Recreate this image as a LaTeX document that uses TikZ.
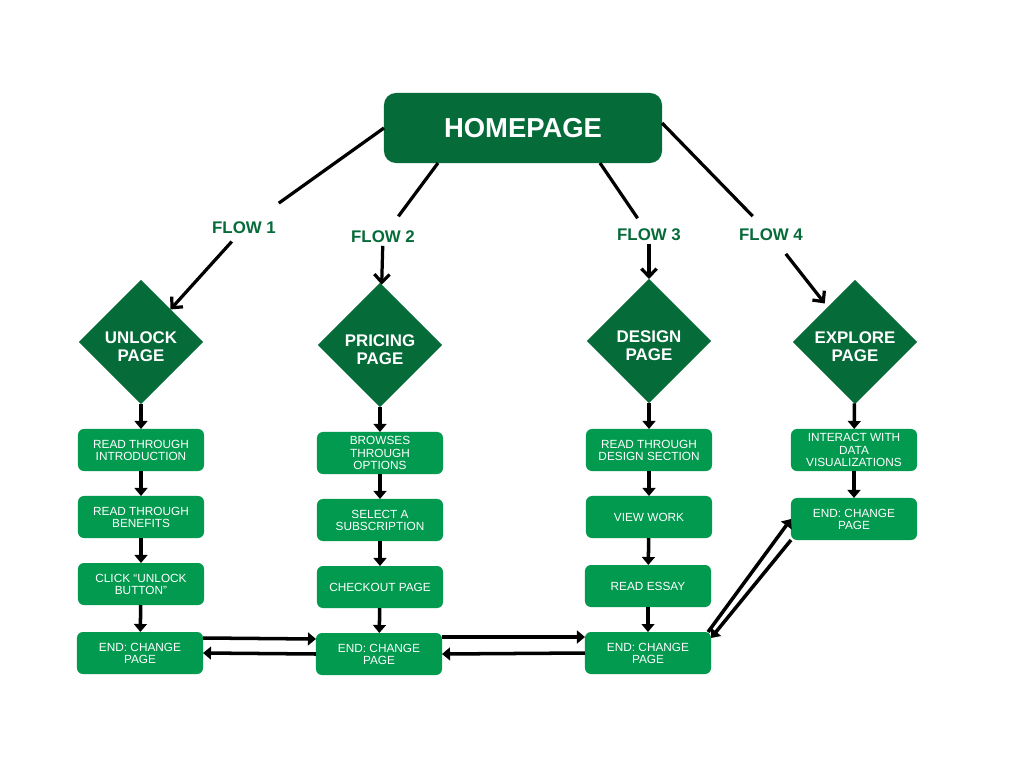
\documentclass[tikz,border=0pt]{standalone}
\usepackage{fontspec}
\setmainfont{Liberation Sans}
\usetikzlibrary{arrows.meta}
\usetikzlibrary{shapes.geometric}
\definecolor{darkgreen}{HTML}{056B39}
\definecolor{boxgreen}{HTML}{019A4F}
\newcommand{\toppad}{\rule{0pt}{15pt}}

\begin{document}
\begin{tikzpicture}
        [
            x = 0.025cm, y = -0.025cm,
            > = {Triangle[length=0.2cm, width=0.32cm]},
            line/.style = {line width=2.3pt},
            step arrow/.style = {->, line width=2.5pt},
            flowarrow/.style = {line width=2.3pt, -{Straight Barb[length=0.2cm, width=0.38cm]}},
            homebox/.style = {rectangle, rounded corners=0.3cm, fill=darkgreen, text=white, font=\bfseries\fontsize{19.5}{22}\selectfont, minimum width=6.95cm, minimum height=1.75cm, inner sep=0, outer sep=0},
            flow/.style = {text=darkgreen, font=\bfseries\fontsize{12}{14}\selectfont, inner sep=2pt, outer sep=0},
            page/.style = {diamond, fill=darkgreen, text=white, align=center, font=\bfseries\fontsize{12}{13}\selectfont, minimum width=3.1cm, minimum height=3.1cm, inner sep=0, outer sep=0},
            box/.style = {rectangle, rounded corners=0.15cm, fill=boxgreen, text=white, align=center, font=\fontsize{8.4}{8.6}\selectfont, minimum width=3.15cm, minimum height=1.05cm, inner sep=0, outer sep=0}
        ]
        \useasboundingbox (0, 0) rectangle (1024, 768);

        \node [homebox] at (523, 128) (home) {HOMEPAGE};

        \node [flow] at (244, 228) (flow1) {FLOW 1};
        \node [flow] at (383, 237) (flow2) {FLOW 2};
        \node [flow] at (649, 235) (flow3) {FLOW 3};
        \node [flow] at (771, 235) (flow4) {FLOW 4};

        \node [page] at (141, 342) (page1) {\toppad UNLOCK\\PAGE};
        \node [page] at (380, 345) (page2) {\toppad PRICING\\PAGE};
        \node [page] at (649, 341) (page3) {\toppad DESIGN\\PAGE};
        \node [page] at (855, 342) (page4) {\toppad EXPLORE\\PAGE};

        \node [box] at (141, 450) (box1a) {READ THROUGH\\INTRODUCTION};
        \node [box] at (141, 517) (box1b) {READ THROUGH\\BENEFITS};
        \node [box] at (141, 584) (box1c) {CLICK “UNLOCK\\BUTTON”};
        \node [box] at (140, 653) (end1) {END: CHANGE\\PAGE};

        \node [box] at (380, 453) (box2a) {BROWSES\\THROUGH\\OPTIONS};
        \node [box] at (380, 520) (box2b) {SELECT A\\SUBSCRIPTION};
        \node [box] at (380, 587) (box2c) {CHECKOUT PAGE};
        \node [box] at (379, 654) (end2) {END: CHANGE\\PAGE};

        \node [box] at (649, 450) (box3a) {READ THROUGH\\DESIGN SECTION};
        \node [box] at (649, 517) (box3b) {VIEW WORK};
        \node [box] at (648, 586) (box3c) {READ ESSAY};
        \node [box] at (648, 653) (end3) {END: CHANGE\\PAGE};

        \node [box] at (854, 450) (box4a) {INTERACT WITH\\DATA\\VISUALIZATIONS};
        \node [box] at (854, 519) (end4) {END: CHANGE\\PAGE};

        \draw[line, shorten >=0.69cm] (home.west) -- (flow1);
        \draw[line, shorten >=0.37cm] ([shift={(-85, 0)}]home.south) -- (flow2);
        \draw[line, shorten >=0.24cm] ([shift={(77, 0)}]home.south) -- (flow3);
        \draw[line, shorten >=0.35cm] ([shift={(0, -5)}]home.east) -- (flow4);

        \draw[flowarrow, shorten <=0.16cm] (flow1) -- (page1);
        \draw[flowarrow] (flow2) -- (page2);
        \draw[flowarrow] (flow3) -- (page3);
        \draw[flowarrow, shorten <=0.32cm, shorten >=0.12cm] (flow4) -- (page4);

        \draw[step arrow] (page1) -- (box1a);
        \draw[step arrow] (box1a) -- (box1b);
        \draw[step arrow] (box1b) -- (box1c);
        \draw[step arrow] (box1c) -- (end1);

        \draw[step arrow] (page2) -- (box2a);
        \draw[step arrow] (box2a) -- (box2b);
        \draw[step arrow] (box2b) -- (box2c);
        \draw[step arrow] (box2c) -- (end2);

        \draw[step arrow] (page3) -- (box3a);
        \draw[step arrow] (box3a) -- (box3b);
        \draw[step arrow] (box3b) -- (box3c);
        \draw[step arrow] (box3c) -- (end3);

        \draw[step arrow] (page4) -- (box4a);
        \draw[step arrow] (box4a) -- (end4);

        \draw[step arrow] ([shift={(0, -15)}]end1.east) -- ([shift={(0, -15)}]end2.west);
        \draw[step arrow] (end2.west) -- (end1.east);
        \draw[step arrow] ([shift={(0, -17)}]end2.east) -- ([shift={(0, -16)}]end3.west);
        \draw[step arrow] (end3.west) -- (end2.east);
        \draw[step arrow] ([shift={(-3, 0)}]end3.north east) -- (end4.west);
        \draw[step arrow] (end4.south west) -- ([shift={(0, -15)}]end3.east);
    \end{tikzpicture}
\end{document}
